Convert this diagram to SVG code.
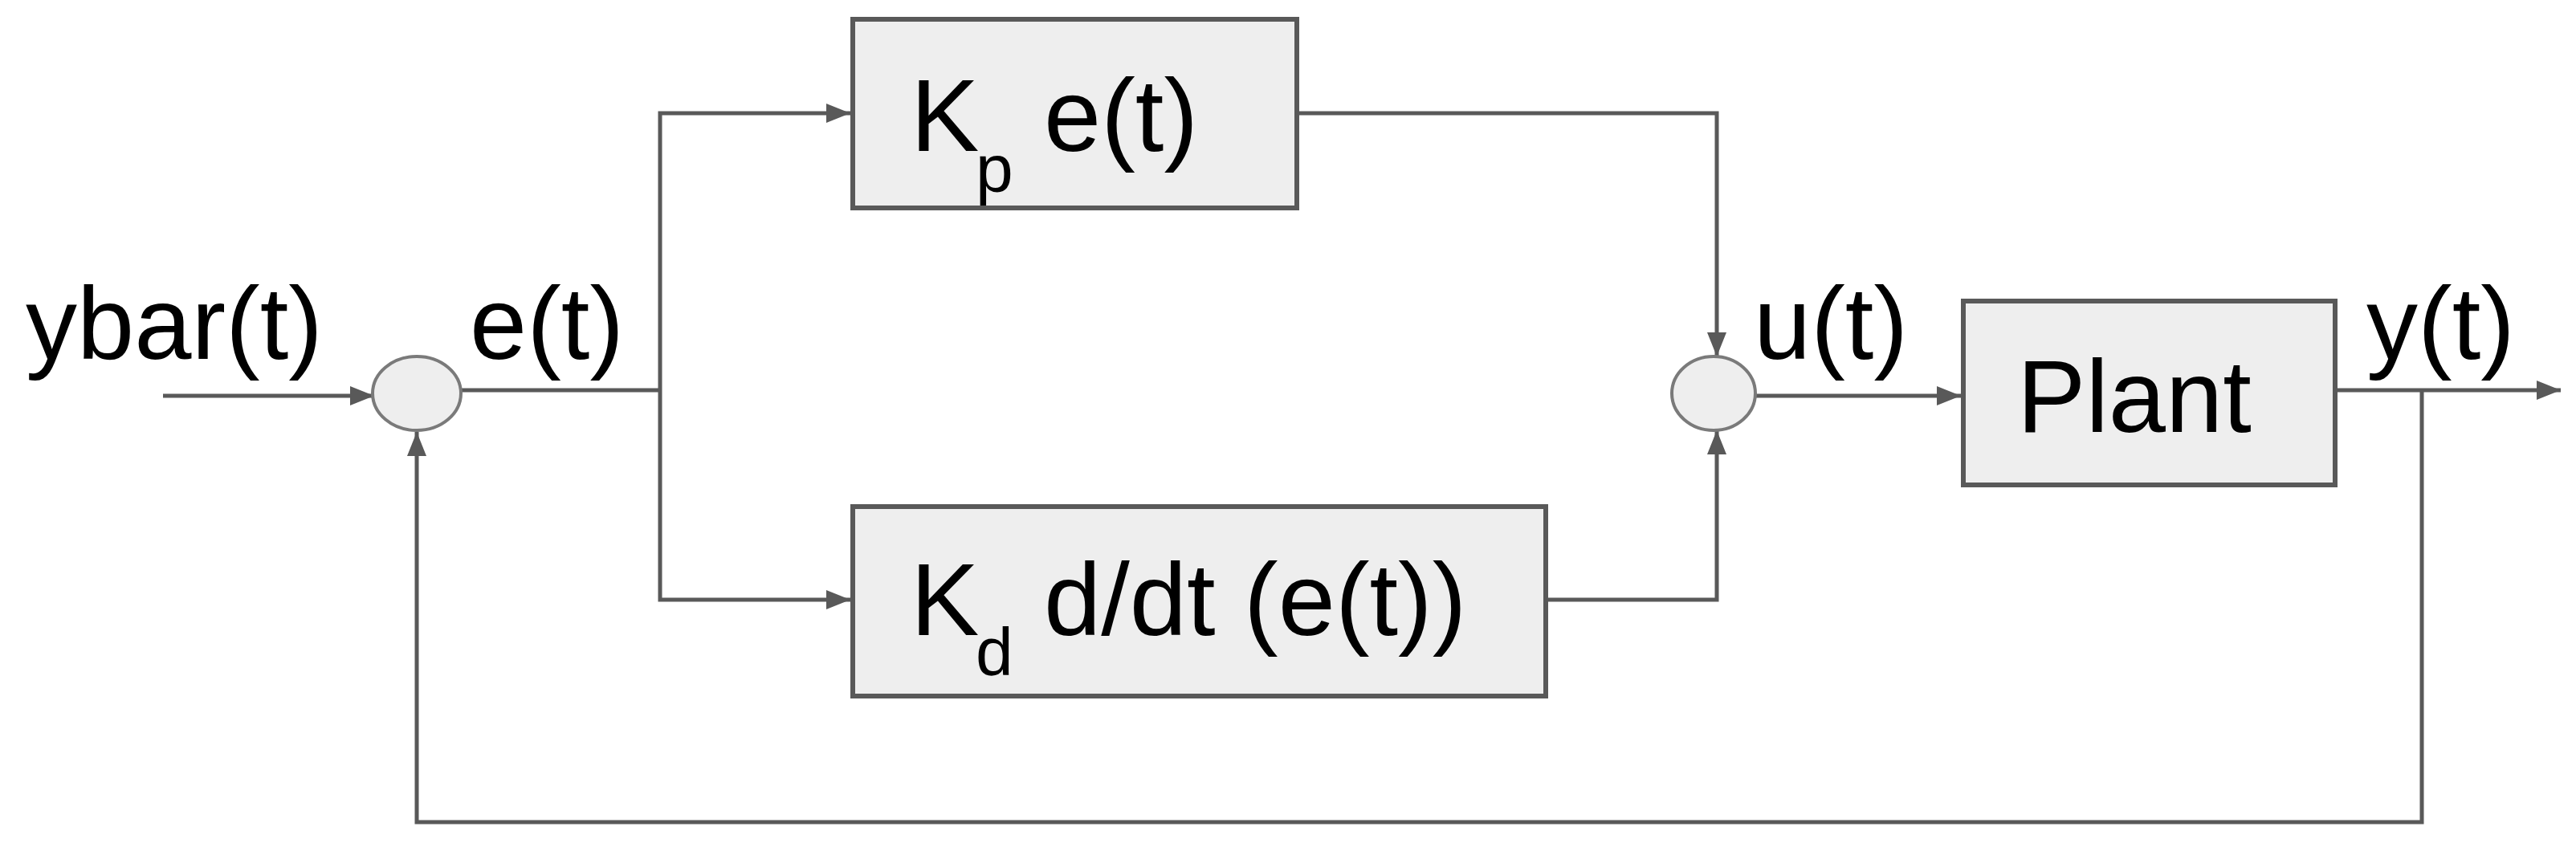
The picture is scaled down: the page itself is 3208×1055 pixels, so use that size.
<svg xmlns="http://www.w3.org/2000/svg" width="3208" height="1055" viewBox="0 0 3208 1055">
<style>
text{font-family:"Liberation Sans",Arial,sans-serif;fill:#000;font-size:128px}
.sub{font-size:84px}
.box{fill:#eeeeee;stroke:#595959;stroke-width:6}
.sum{fill:#eeeeee;stroke:#7a7a7a;stroke-width:4}
.c{fill:none;stroke:#595959;stroke-width:5}
</style>
<defs><marker id="a" markerWidth="10" markerHeight="8" refX="10" refY="4" orient="auto" markerUnits="userSpaceOnUse" viewBox="0 0 10 8"><path d="M0,0L10,4L0,8z" fill="#595959"/></marker>
<marker id="ar" viewBox="0 0 10 8" refX="10" refY="4" markerWidth="32" markerHeight="24" orient="auto" markerUnits="userSpaceOnUse"><path d="M0,0L10,4L0,8z" fill="#595959"/></marker></defs>
<g id="connectors">
<path class="c" d="M203,493H466" marker-end="url(#ar)"/>
<path class="c" d="M574,486H822"/>
<path class="c" d="M822,486V141H1059" marker-end="url(#ar)"/>
<path class="c" d="M822,486V747H1059" marker-end="url(#ar)"/>
<path class="c" d="M1615,141H2138V444" marker-end="url(#ar)"/>
<path class="c" d="M1925,747H2138V536" marker-end="url(#ar)"/>
<path class="c" d="M2186,493H2442" marker-end="url(#ar)"/>
<path class="c" d="M2908,486H3189" marker-end="url(#ar)"/>
<path class="c" d="M3016,486V1024H519V538" marker-end="url(#ar)"/>
</g>
<g id="sum1"><ellipse class="sum" cx="519" cy="490" rx="55" ry="46"/></g>
<g id="sum2"><ellipse class="sum" cx="2134" cy="490" rx="52" ry="46"/></g>
<g id="kp"><rect class="box" x="1062" y="24" width="553" height="235"/><text x="1134" y="188">K</text><text class="sub" x="1215" y="239">p</text><text x="1300" y="188">e(t)</text></g>
<g id="kd"><rect class="box" x="1062" y="631" width="863" height="236"/><text x="1134" y="791">K</text><text class="sub" x="1215" y="841">d</text><text x="1300" y="791">d/dt (e(t))</text></g>
<g id="plant"><rect class="box" x="2445" y="375" width="463" height="229"/><text x="2512" y="538">Plant</text></g>
<g id="labels"><text x="32" y="447">ybar(t)</text><text x="585" y="447">e(t)</text><text x="2184" y="447">u(t)</text><text x="2947" y="447">y(t)</text></g>
</svg>
